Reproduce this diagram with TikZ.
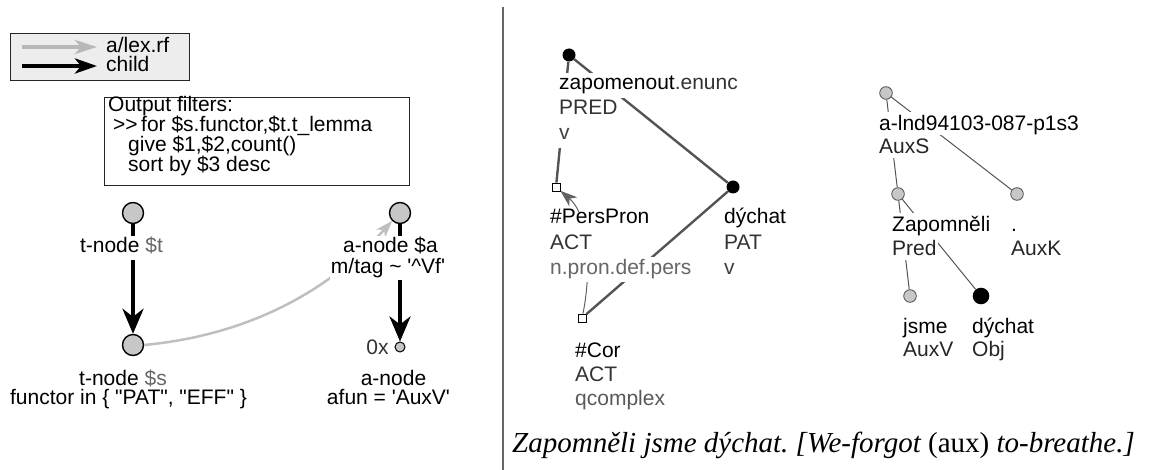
\documentclass[tikz,border=0pt]{standalone}
\usepackage{fontspec}
\setmainfont{Liberation Sans}
\newfontfamily\captionserif{Liberation Serif}
\usetikzlibrary{arrows.meta}
\frenchspacing

\begin{document}
\begin{tikzpicture}[x=1pt, y=-1pt,
				   font=\fontsize{21}{24}\selectfont,
				   every node/.style={inner sep=0pt},
				   qnode/.style={circle, draw=black, line width=1.4pt, fill=black!22, minimum size=21pt},
				   qleaf/.style={circle, draw=black, line width=1pt, fill=black!22, minimum size=10pt},
				   qlabel/.style={fill=white, inner xsep=1pt, inner ysep=0.5pt, text height=16pt, text depth=6pt, anchor=base},
				   qtext/.style={anchor=base},
				   panel/.style={rectangle, draw=black!85, line width=0.9pt},
				   child/.style={-{Stealth[length=25pt, width=21pt, inset=8pt]}, line width=4pt},
				   lexrf/.style={-{Stealth[length=17pt, width=12pt, inset=5pt]}, draw=black!25, line width=2.5pt},
				   tdot/.style={circle, fill=black, minimum size=13pt},
				   tbox/.style={rectangle, draw=black, fill=white, line width=0.8pt, minimum size=8pt},
				   tline/.style={fill=white, inner xsep=1pt, inner ysep=1pt, text height=16pt, text depth=7pt, anchor=base west},
				   tedge/.style={draw=black!67, line width=2.4pt},
				   coref/.style={-{Stealth[length=17pt, width=12pt, inset=5pt]}, draw=black!62, line width=1pt},
				   anode/.style={circle, draw=black!70, line width=0.8pt, fill=black!22, minimum size=12.6pt},
				   aline/.style={fill=white, inner xsep=1pt, inner ysep=0.5pt, text height=18pt, text depth=4pt, anchor=base west},
				   aedge/.style={draw=black!67, line width=1pt}]
\useasboundingbox (0,0) rectangle (1150,470);

% legend
\node[panel, fill=black!7, minimum width=179pt, minimum height=47pt] (key) at (99.5,56.5) {};
\coordinate (k1) at (22,47);
\coordinate (k2) at (97,47);
\coordinate (k3) at (22,66);
\coordinate (k4) at (97,66);
\draw[-{Stealth[length=22pt, width=14pt, inset=6pt]}, black!28, line width=4pt] (k1) -- (k2);
\draw[-{Stealth[length=22pt, width=15pt, inset=6pt]}, black, line width=4pt] (k3) -- (k4);
\node[anchor=base west] (klex) at (106,53) {a/lex.rf};
\node[anchor=base west] (kchild) at (106,72) {child};

% output filters
\node[panel, fill=white, minimum width=305pt, minimum height=88pt] (filt) at (256.5,141) {};
\node[anchor=base west] (f1) at (108,112) {Output filters:};
\node[anchor=base west] (f2) at (113,132) {>\kern0pt>};
\node[anchor=base west] (f3) at (141,132) {for \$s.functor,\$t.t\_lemma};
\node[anchor=base west] (f4) at (128,152) {give \$1,\$2,count()};
\node[anchor=base west] (f5) at (128,172) {sort by \$3 desc};

% query tree
\node[qnode] (T) at (133,213) {};
\node[qnode] (S) at (133,345) {};
\node[qnode] (A) at (400,213) {};
\node[qleaf] (V) at (400,347) {};
\draw[child] (T) -- (S);
\draw[child] (A) -- (V);
\draw[lexrf] (S.east) .. controls (250,335) and (330,290) .. (A.south west);
\node[qlabel] (Tl) at (121.5,253) {t-node \textcolor{black!60}{\$t}};
\node[qtext] (Sl) at (123,385) {t-node \textcolor{black!60}{\$s}};
\node[qtext] (Sf) at (128.5,404) {functor in \{ \textquotedbl PAT\textquotedbl, \textquotedbl EFF\textquotedbl{} \}};
\node[qlabel] (Al) at (390.5,253) {a-node \$a};
\node[qlabel] (At) at (388,273) {m/tag \textasciitilde{} \textquotesingle\textasciicircum Vf\textquotesingle};
\node[qtext] (Vl) at (393.5,385) {a-node};
\node[qtext] (Vf) at (388.5,404) {afun = \textquotesingle AuxV\textquotesingle};
\node[qtext, text=black!80] (Vc) at (377.5,354) {0x};

\draw[black!60, line width=2pt] (503,7) -- (503,470);

% t-tree
\node[tdot] (zr) at (569,55) {};
\node[tbox] (pp) at (556,187) {};
\node[tdot] (dy) at (733,187) {};
\node[tbox] (co) at (582,318) {};
\draw[tedge] (zr) -- (pp);
\draw[tedge] (zr) -- (dy);
\draw[tedge] (dy) -- (co);
\draw[coref] (co) .. controls (590,280) and (592,218) .. (pp);
\node[tline] (zr1) at (558,90) {zapomenout\textcolor{black!80}{.enunc}};
\node[tline, text=black!80] (zr2) at (558,115) {PRED};
\node[tline, text=black!75] (zr3) at (558,140) {v};
\node[tline, text height=11pt] (pp1) at (549,224) {\#PersPron};
\node[tline, text=black!80] (pp2) at (549,249) {ACT};
\node[tline, text=black!60] (pp3) at (549,274) {n.pron.def.pers};
\node[tline] (dy1) at (723,224) {dýchat};
\node[tline, text=black!80] (dy2) at (723,249) {PAT};
\node[tline, text=black!75] (dy3) at (723,274) {v};
\node[tline] (co1) at (574,357) {\#Cor};
\node[tline, text=black!80] (co2) at (574,381) {ACT};
\node[tline, text=black!65] (co3) at (574,405) {qcomplex};

% a-tree
\node[anode] (ar) at (886,93) {};
\node[anode] (az) at (898,194) {};
\node[anode] (ak) at (1017,194) {};
\node[anode] (aj) at (910,296) {};
\node[circle, fill=black, minimum size=16.6pt] (ad) at (981,296) {};
\draw[aedge] (ar) -- (az);
\draw[aedge] (ar) -- (ak);
\draw[aedge] (az) -- (aj);
\draw[aedge] (az) -- (ad);
\node[aline] (ar1) at (878,131) {a-lnd94103-087-p1s3};
\node[aline, text=black!85] (ar2) at (878,154) {AuxS};
\node[aline] (az1) at (891,232) {Zapomněli};
\node[aline, text=black!85] (az2) at (891,255) {Pred};
\node[aline] (ak1) at (1010,232) {.};
\node[aline, text=black!85] (ak2) at (1010,255) {AuxK};
\node[aline] (aj1) at (902,333) {jsme};
\node[aline, text=black!85] (aj2) at (902,356) {AuxV};
\node[aline] (ad1) at (971,333) {dýchat};
\node[aline, text=black!85] (ad2) at (971,356) {Obj};

\node[anchor=base west, font=\fontsize{29}{34}\captionserif\itshape] (cap) at (512,452) {Zapomněli jsme dýchat. [We-forgot {\upshape(aux)} to-breathe.]};
\end{tikzpicture}
\end{document}
